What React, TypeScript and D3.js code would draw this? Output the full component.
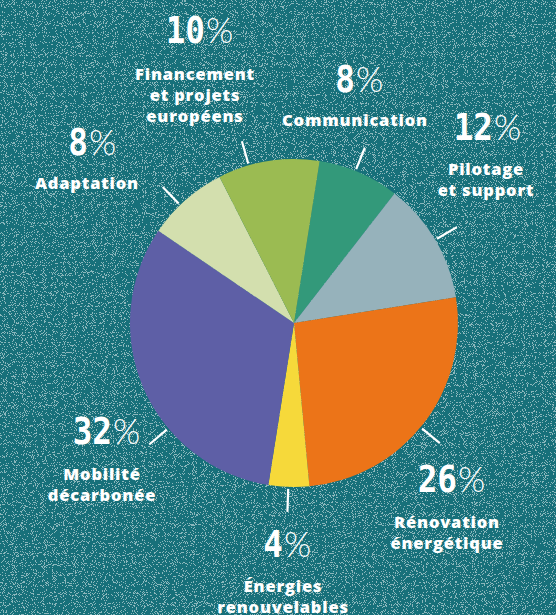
import React from "react";
import * as d3 from "d3";

const W = 556;
const H = 615;

const categories = [
  "Communication",
  "Pilotage et support",
  "Rénovation énergétique",
  "Énergies renouvelables",
  "Mobilité décarbonée",
  "Adaptation",
  "Financement et projets européens",
];
const values = [8, 12, 26, 4, 32, 8, 10];
const labelLines = [
  ["Communication"],
  ["Pilotage", "et support"],
  ["Rénovation", "énergétique"],
  ["Énergies", "renouvelables"],
  ["Mobilité", "décarbonée"],
  ["Adaptation"],
  ["Financement", "et projets", "européens"],
];
const colors = ["#33997a", "#96b2bb", "#ec7418", "#f6d93a", "#5e5fa6", "#d3dfae", "#9bbb52"];

// layout (positions of labels and leader ticks)
const layout = [
  { px: 355, py: 92, lx: 355, ly: 126, tick: 22 },
  { px: 483, py: 140, lx: 486, ly: 175, tick: 59.5 },
  { px: 447, py: 492, lx: 447, ly: 528, tick: 129.5 },
  { px: 283, py: 557, lx: 283, ly: 592, tick: 182 },
  { px: 102, py: 444, lx: 102, ly: 480, tick: 230 },
  { px: 88, py: 155, lx: 87, ly: 189, tick: 316 },
  { px: 195, py: 43, lx: 195, ly: 80, tick: 344 },
];

const CX = 294;
const CY = 323;
const R = 164;
const START = (9 * Math.PI) / 180;
const DIGIT_W = 20;

export default function App() {
  const pie = d3
    .pie<number>()
    .sort(null)
    .value((d) => d)
    .startAngle(START)
    .endAngle(START + 2 * Math.PI);
  const arcs = pie(values);
  const arc = d3.arc<d3.PieArcDatum<number>>().innerRadius(0).outerRadius(R);

  const labelFont = "'Open Sans', 'DejaVu Sans', sans-serif";

  return (
    <svg
      width={W}
      height={H}
      style={{ position: "absolute", left: 0, top: 0 }}
      viewBox={`0 0 ${W} ${H}`}
    >
      <defs>
        <filter id="speckle" x="0" y="0" width="100%" height="100%">
          <feTurbulence type="fractalNoise" baseFrequency="1.1" numOctaves="1" seed="7" result="n" />
          <feColorMatrix
            in="n"
            type="matrix"
            values="0 0 0 0 1  0 0 0 0 1  0 0 0 0 1  1 0 0 0 0"
            result="a"
          />
          <feComponentTransfer in="a">
            <feFuncA type="discrete" tableValues="0 0 0 0 0 0 0.5 0.5 0.5 0.5" />
          </feComponentTransfer>
        </filter>
      </defs>
      <rect x={0} y={0} width={W} height={H} fill="#17707a" />
      <rect x={0} y={0} width={W} height={H} fill="#ffffff" filter="url(#speckle)" />

      <g transform={`translate(${CX},${CY})`}>
        {arcs.map((a, i) => (
          <path key={categories[i]} d={arc(a) || ""} fill={colors[i]} />
        ))}
        {layout.map((l, i) => {
          const t = (l.tick * Math.PI) / 180;
          return (
            <line
              key={"t" + i}
              x1={Math.sin(t) * (R + 2)}
              y1={-Math.cos(t) * (R + 2)}
              x2={Math.sin(t) * (R + 25)}
              y2={-Math.cos(t) * (R + 25)}
              stroke="#ffffff"
              strokeWidth={2.2}
            />
          );
        })}
      </g>

      {layout.map((l, i) => {
        const n = String(values[i]).length;
        const split = l.px + (DIGIT_W * (n - 1)) / 2;
        return (
          <g key={"l" + i} fill="#ffffff">
            <text
              transform={`translate(${split},${l.py}) scale(0.86,1)`}
              textAnchor="end"
              fontFamily="'DejaVu Sans Mono', monospace"
              fontWeight={700}
              fontSize={38}
            >
              {values[i]}
            </text>
            <text
              x={split + 1}
              y={l.py}
              fontFamily="Lato, sans-serif"
              fontWeight={300}
              fontSize={35}
            >
              %
            </text>
            {labelLines[i].map((ln, j) => (
              <text
                key={j}
                x={l.lx}
                y={l.ly + j * 21}
                textAnchor="middle"
                fontFamily={labelFont}
                fontWeight={800}
                fontSize={16.5}
                letterSpacing={0.8}
              >
                {ln}
              </text>
            ))}
          </g>
        );
      })}
    </svg>
  );
}
